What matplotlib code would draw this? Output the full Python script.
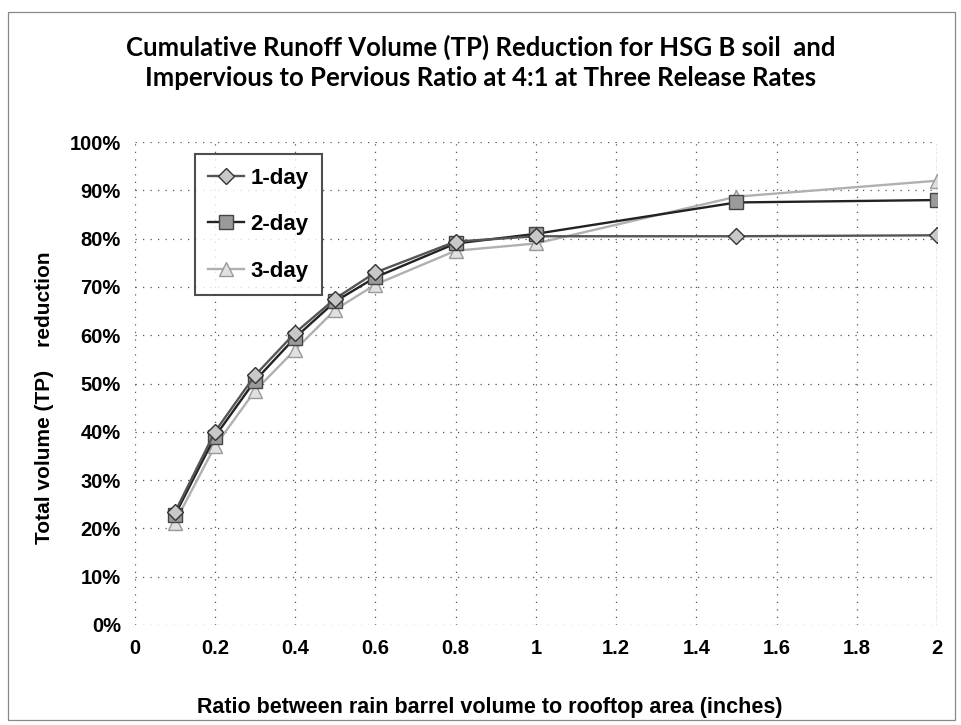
import matplotlib.pyplot as plt
from matplotlib.patches import Rectangle
from matplotlib.ticker import PercentFormatter

# data
ratio = [0.1, 0.2, 0.3, 0.4, 0.5, 0.6, 0.8, 1.0, 1.5, 2.0]
day1 = [23.3, 40.0, 51.7, 60.5, 67.6, 73.0, 79.4, 80.5, 80.5, 80.7]
day2 = [22.7, 39.0, 50.6, 59.5, 67.0, 72.0, 79.0, 81.0, 87.5, 88.0]
day3 = [21.2, 37.0, 48.5, 57.0, 65.3, 70.5, 77.5, 79.0, 88.7, 92.0]
xticks = [0, 0.2, 0.4, 0.6, 0.8, 1, 1.2, 1.4, 1.6, 1.8, 2]
xticklabels = ['0', '0.2', '0.4', '0.6', '0.8', '1', '1.2', '1.4', '1.6', '1.8', '2']

plt.rcParams['font.family'] = ['Liberation Sans', 'DejaVu Sans']

fig = plt.figure(figsize=(9.62, 7.25), dpi=100)
ax = fig.add_axes([0.140, 0.138, 0.834, 0.666])

# outer chart border
fig.patches.append(Rectangle((0.008, 0.007), 0.985, 0.976, transform=fig.transFigure,
                             fill=False, edgecolor='#888888', lw=0.9))

ax.plot(ratio, [v / 100 for v in day1], '-D', color='#555555', lw=1.7, ms=8.5,
        mfc='#c8c8c8', mec='#333333', mew=1.0, label='1-day', zorder=4)
ax.plot(ratio, [v / 100 for v in day2], '-s', color='#222222', lw=1.7, ms=9.5,
        mfc='#9a9a9a', mec='#444444', mew=1.0, label='2-day', zorder=3)
ax.plot(ratio, [v / 100 for v in day3], '-^', color='#b0b0b0', lw=1.7, ms=10,
        mfc='#e0e0e0', mec='#999999', mew=1.0, label='3-day', zorder=2)

ax.set_xlim(0, 2)
ax.set_ylim(0, 1)
ax.set_xticks(xticks)
ax.set_xticklabels(xticklabels)
ax.set_yticks([i / 10 for i in range(11)])
ax.yaxis.set_major_formatter(PercentFormatter(1.0, decimals=0))
ax.tick_params(length=0, labelsize=14.5, pad=10)
for lab in ax.get_xticklabels() + ax.get_yticklabels():
    lab.set_fontweight('bold')

ax.grid(True, linestyle=(0, (1, 5)), color='#555555', lw=0.9)
for s in ax.spines.values():
    s.set_visible(False)
ax.axvline(2, color='#aaaaaa', lw=1.0, ls=(0, (2, 1)))

ax.set_xlabel('Ratio between rain barrel volume to rooftop area (inches)',
              fontsize=15.5, fontweight='bold')
ax.xaxis.set_label_coords(0.443, -0.15)
ax.set_ylabel('Total volume (TP)    reduction', fontsize=15, fontweight='bold')
ax.yaxis.set_label_coords(-0.1, 0.47)

fig.text(0.5, 0.935, 'Cumulative Runoff Volume (TP) Reduction for HSG B soil  and',
         ha='center', va='center', fontsize=18.5, fontweight='bold', family='Lato')
fig.text(0.5, 0.892, 'Impervious to Pervious Ratio at 4:1 at Three Release Rates',
         ha='center', va='center', fontsize=18.5, fontweight='bold', family='Lato')

leg = ax.legend(loc='upper left', bbox_to_anchor=(0.075, 0.975),
                prop={'weight': 'bold', 'size': 16}, frameon=True, fancybox=False,
                edgecolor='#222222', handlelength=1.6, labelspacing=1.15,
                borderpad=0.6, handletextpad=0.3, borderaxespad=0)
leg.get_frame().set_linewidth(1.5)

fig.savefig('out.png', dpi=100)
